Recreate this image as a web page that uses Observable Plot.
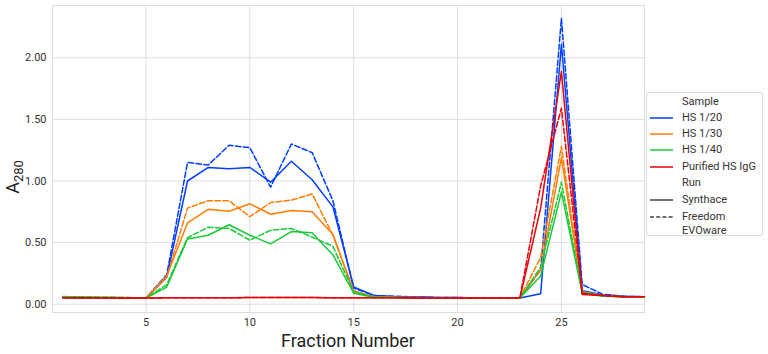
<!DOCTYPE html>
<html>
<head>
<meta charset="utf-8">
<script src="https://cdn.jsdelivr.net/npm/d3@7"></script>
<script src="https://cdn.jsdelivr.net/npm/@observablehq/plot@0.6"></script>
<style>
  html, body { margin: 0; padding: 0; background: #fff; }
  #wrap { position: relative; width: 768px; height: 354px; font-family: Roboto, sans-serif; }
  #legend { position: absolute; left: 646px; top: 92px; width: 117px; height: 144px;
    border: 1px solid #dcdcdc; border-radius: 3px; box-sizing: border-box; background: #fff;
    font-family: Roboto, sans-serif; font-size: 11px; color: #333; }
  .row { position: absolute; left: 0; height: 14px; line-height: 14px; white-space: nowrap; }
  .row svg { position: absolute; left: 3px; top: 0; }
  .row span { position: absolute; left: 35px; top: 0; }
</style>
</head>
<body>
<div id="wrap"><div id="chart"></div><div id="legend"></div></div>
<script>
const fractions = [1,2,3,4,5,6,7,8,9,10,11,12,13,14,15,16,17,18,19,20,21,22,23,24,25,26,27,28,29];
const samples = ["HS 1/20", "HS 1/30", "HS 1/40", "Purified HS IgG"];
const runs = ["Synthace", "Freedom EVOware"];
const colors = ["#023eff", "#ff7c00", "#1ac938", "#e8000b"];

const hs20_synthace = [0.055,0.054,0.053,0.052,0.050,0.22,1.00,1.11,1.10,1.11,0.99,1.16,1.01,0.79,0.14,0.07,0.06,0.06,0.055,0.055,0.05,0.05,0.05,0.085,2.11,0.11,0.075,0.065,0.06];
const hs20_freedom  = [0.055,0.054,0.053,0.052,0.050,0.24,1.15,1.13,1.29,1.27,0.95,1.30,1.23,0.84,0.13,0.07,0.065,0.06,0.055,0.055,0.05,0.05,0.05,0.28,2.32,0.16,0.08,0.065,0.06];
const hs30_synthace = [0.055,0.054,0.053,0.052,0.050,0.23,0.66,0.77,0.755,0.815,0.73,0.76,0.75,0.565,0.10,0.06,0.055,0.055,0.05,0.05,0.05,0.05,0.05,0.28,1.19,0.10,0.07,0.06,0.06];
const hs30_freedom  = [0.055,0.054,0.053,0.052,0.050,0.22,0.78,0.84,0.84,0.71,0.825,0.845,0.895,0.56,0.11,0.06,0.055,0.055,0.05,0.05,0.05,0.05,0.05,0.38,1.28,0.10,0.07,0.06,0.06];
const hs40_synthace = [0.060,0.058,0.056,0.054,0.050,0.14,0.53,0.56,0.645,0.56,0.49,0.59,0.58,0.40,0.09,0.055,0.055,0.05,0.05,0.05,0.05,0.05,0.05,0.23,0.91,0.09,0.065,0.06,0.06];
const hs40_freedom  = [0.062,0.060,0.057,0.055,0.050,0.16,0.54,0.625,0.615,0.52,0.60,0.615,0.545,0.47,0.10,0.06,0.055,0.05,0.05,0.05,0.05,0.05,0.05,0.30,0.99,0.10,0.07,0.06,0.06];
const igg_synthace  = [0.052,0.051,0.050,0.050,0.050,0.052,0.053,0.053,0.053,0.054,0.054,0.054,0.054,0.053,0.053,0.052,0.052,0.051,0.051,0.050,0.050,0.050,0.050,0.78,1.89,0.08,0.07,0.06,0.06];
const igg_freedom   = [0.052,0.051,0.050,0.050,0.050,0.052,0.053,0.053,0.053,0.054,0.054,0.054,0.054,0.053,0.053,0.052,0.052,0.051,0.051,0.050,0.050,0.050,0.050,0.96,1.59,0.09,0.07,0.06,0.06];

const xTicks = [5, 10, 15, 20, 25];
const yTicks = [0, 0.5, 1.0, 1.5, 2.0];

const series = [
  [samples[0], runs[0], hs20_synthace], [samples[0], runs[1], hs20_freedom],
  [samples[1], runs[0], hs30_synthace], [samples[1], runs[1], hs30_freedom],
  [samples[2], runs[0], hs40_synthace], [samples[2], runs[1], hs40_freedom],
  [samples[3], runs[0], igg_synthace],  [samples[3], runs[1], igg_freedom]
];
const table = series.flatMap(([sample, run, vals]) =>
  vals.map((v, i) => ({fraction: fractions[i], value: v, sample, run})));

const lineMarks = series.map(([sample, run]) =>
  Plot.line(table.filter(d => d.sample === sample && d.run === run), {
    x: "fraction", y: "value", stroke: "sample", strokeWidth: 1.5,
    strokeDasharray: run === runs[1] ? "5.5,2.4" : null
  }));

const chart = Plot.plot({
  width: 768, height: 354,
  marginLeft: 52, marginRight: 124, marginTop: 5, marginBottom: 42,
  style: {fontFamily: "Roboto, sans-serif", fontSize: "11px", color: "#333", background: "#fff"},
  x: {domain: [0.5, 29], ticks: xTicks, tickSize: 0, tickPadding: 6, label: null},
  y: {domain: [-0.067, 2.424], ticks: yTicks, tickFormat: d3.format(".2f"), tickSize: 0, tickPadding: 6, label: null},
  color: {domain: samples, range: colors},
  marks: [
    Plot.gridX(xTicks, {stroke: "#dedede", strokeOpacity: 1, strokeWidth: 1}),
    Plot.gridY(yTicks, {stroke: "#dedede", strokeOpacity: 1, strokeWidth: 1}),
    Plot.frame({stroke: "#dcdcdc", strokeWidth: 1}),
    ...lineMarks
  ]
});
document.getElementById("chart").appendChild(chart);

// axis titles
const svg = d3.select(chart);
svg.append("text")
  .attr("transform", "translate(19,177) rotate(-90)")
  .attr("font-family", "Roboto, sans-serif").attr("font-size", 18).attr("fill", "#222")
  .call(t => {
    t.append("tspan").text("A");
    t.append("tspan").attr("font-size", 13).attr("dy", 4).text("280");
  });
svg.append("text")
  .attr("x", 348).attr("y", 347).attr("text-anchor", "middle")
  .attr("font-family", "Roboto, sans-serif").attr("font-size", 18).attr("fill", "#222")
  .text("Fraction Number");

// legend
const legend = document.getElementById("legend");
const rows = [
  {label: "Sample", header: true},
  ...samples.map((s, i) => ({label: s, color: colors[i]})),
  {label: "Run", header: true},
  {label: "Synthace", color: "#444"},
  {label: "Freedom<br>EVOware", color: "#444", dash: "4,2.2"}
];
const rowTops = [2, 18, 34, 50, 67, 83, 100, 117];
rows.forEach((r, i) => {
  const div = document.createElement("div");
  div.className = "row";
  div.style.top = rowTops[i] + "px";
  let html = "";
  if (!r.header) {
    html += `<svg width="24" height="14"><line x1="0" x2="23" y1="7" y2="7" stroke="${r.color}" stroke-width="1.5" ${r.dash ? `stroke-dasharray="${r.dash}"` : ""}/></svg>`;
  }
  html += `<span>${r.label}</span>`;
  div.innerHTML = html;
  legend.appendChild(div);
});
</script>
</body>
</html>
